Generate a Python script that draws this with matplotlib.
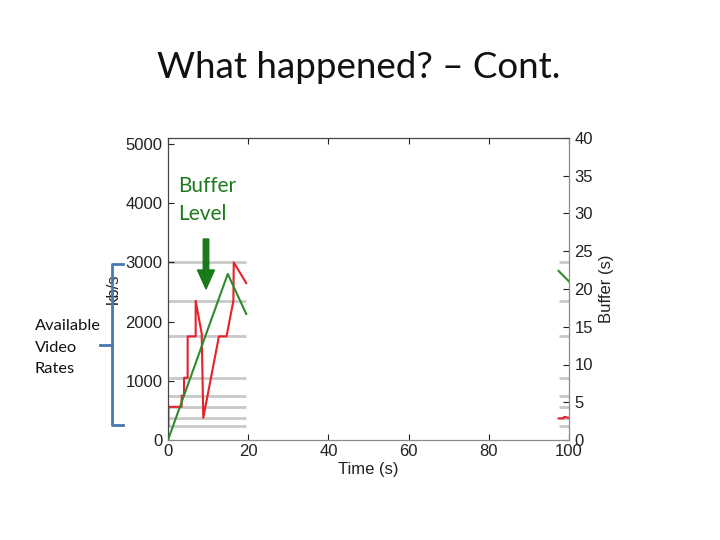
import matplotlib
matplotlib.use("Agg")
import matplotlib.pyplot as plt
from matplotlib.lines import Line2D
from matplotlib.patches import FancyArrow
from matplotlib.transforms import IdentityTransform

# ---- data ----
available_rates = [235, 375, 560, 750, 1050, 1750, 2350, 3000]  # kb/s

# video rate (kb/s), visible part at the start
rate_t1 = [0.1, 0.1, 3.4, 3.4, 4.0, 4.0, 4.9, 4.9, 6.9, 6.9, 8.4, 8.8, 12.7, 14.6, 16.3, 16.4, 19.5]
rate_v1 = [235, 560, 560, 750, 750, 1050, 1050, 1750, 1750, 2350, 1800, 375, 1750, 1750, 2350, 3000, 2650]
# video rate, visible part at the end
rate_t2 = [97.4, 98.6, 98.8, 100]
rate_v2 = [365, 365, 390, 375]

# buffer level (s)
buf_t1 = [0, 14.9, 19.5]
buf_v1 = [0, 22.0, 16.7]
buf_t2 = [97.4, 100]
buf_v2 = [22.4, 21.0]

x_ticks = [0, 20, 40, 60, 80, 100]
left_ticks = [0, 1000, 2000, 3000, 4000, 5000]
right_ticks = [0, 5, 10, 15, 20, 25, 30, 35, 40]

# visible windows of the plot (rest is blanked on the slide)
win1 = (0, 19.5)
win2 = (97.4, 100)

# ---- figure ----
W, H = 720, 540
fig = plt.figure(figsize=(W / 100, H / 100), dpi=100)
fig.patch.set_facecolor("white")

tick_font = "Liberation Sans"
slide_font = "Lato"

ax = fig.add_axes([168 / W, 100 / H, 401 / W, 302 / H])
ax.set_xlim(0, 100)
ax.set_ylim(0, 5100)

grid_c = "#c9c9c9"
for lo, hi in (win1, win2):
    ax.hlines(available_rates, lo, hi, color=grid_c, lw=2, zorder=1)

red = "#e8202a"
green = "#2f8a2f"
ax.plot(rate_t1, rate_v1, color=red, lw=1.5, zorder=3)
ax.plot(rate_t2, rate_v2, color=red, lw=1.5, zorder=3)

ax.set_xticks(x_ticks)
ax.set_yticks(left_ticks)
ax.tick_params(axis="both", direction="in", length=4, labelsize=12, colors="#222222", pad=4)
ax.tick_params(axis="x", top=True, pad=3)
for lab in ax.get_xticklabels() + ax.get_yticklabels():
    lab.set_family(tick_font)

ax.set_xlabel("Time (s)", family=tick_font, fontsize=12, color="#222222", labelpad=2)
ax.set_ylabel("kb/s", family=tick_font, fontsize=12, color="#222222", labelpad=3)

ax2 = ax.twinx()
ax2.set_ylim(0, 40)
ax2.plot(buf_t1, buf_v1, color=green, lw=1.5, zorder=3)
ax2.plot(buf_t2, buf_v2, color=green, lw=1.5, zorder=3)
ax2.set_yticks(right_ticks)
ax2.tick_params(axis="y", direction="in", length=4, labelsize=12, colors="#222222", pad=4)
for lab in ax2.get_yticklabels():
    lab.set_family(tick_font)
ax2.set_ylabel("Buffer (s)", family=tick_font, fontsize=12, color="#222222", labelpad=4)

for a in (ax, ax2):
    a.spines["left"].set_color("#444444")
    a.spines["top"].set_color("#444444")
    a.spines["right"].set_color("#8a8a8a")
    a.spines["bottom"].set_color("#8a8a8a")

# ---- slide decorations ----
fig.text(359 / W, 1 - 68 / H, "What happened? \u2013 Cont.", family=slide_font,
         fontsize=26.5, ha="center", va="center", color="#111111")

tg = "#1f7a1f"
fig.text(178 / W, 1 - 186 / H, "Buffer", family=slide_font, fontsize=15,
         ha="left", va="center", color=tg)
fig.text(178 / W, 1 - 214 / H, "Level", family=slide_font, fontsize=15,
         ha="left", va="center", color=tg)
arrow = FancyArrow(206, H - 239, 0, -(289 - 239), width=5.5, head_width=17,
                   head_length=19, length_includes_head=True,
                   color="#1a7a1a", transform=IdentityTransform())
fig.add_artist(arrow)

for i, s in enumerate(["Available", "Video", "Rates"]):
    fig.text(35 / W, 1 - (326 + 21.5 * i) / H, s, family=slide_font, fontsize=11.8,
             ha="left", va="center", color="#111111")

blue = "#4a78b0"
fig.add_artist(Line2D([123, 112, 112, 123], [H - 264, H - 264, H - 425, H - 425],
                      color=blue, lw=2, transform=IdentityTransform()))
fig.add_artist(Line2D([100, 112], [H - 345, H - 345], color=blue, lw=2,
                      transform=IdentityTransform()))

fig.savefig("out.png", dpi=100)
